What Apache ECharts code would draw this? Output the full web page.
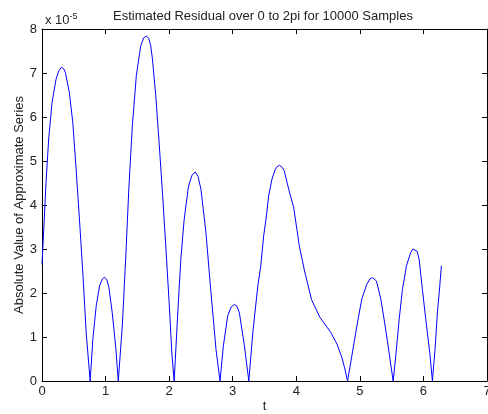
<!DOCTYPE html>
<html>
<head>
<meta charset="utf-8">
<script src="https://cdn.jsdelivr.net/npm/echarts@6/dist/echarts.min.js"></script>
<style>html,body{margin:0;padding:0;background:#fff;}#c{width:488px;height:414px;}</style>
</head>
<body>
<div id="c"></div>
<script>
var titleText = 'Estimated Residual over 0 to 2pi for 10000 Samples';
var xLabel = 't';
var yLabel = 'Absolute Value of Approximate Series';
var xTicks = [0, 1, 2, 3, 4, 5, 6, 7];
var yTicks = [0, 1, 2, 3, 4, 5, 6, 7, 8];
// t values
var tValues = [0.000,0.030,0.063,0.105,0.158,0.221,0.265,0.305,0.340,0.368,0.430,0.484,0.537,0.589,0.642,0.695,0.758,
0.800,0.853,0.905,0.950,0.984,1.020,1.053,1.105,1.158,1.200,
1.263,1.316,1.368,1.421,1.484,1.553,1.600,1.642,1.680,1.710,1.737,1.790,1.842,1.895,1.947,2.000,2.042,2.079,
2.130,2.184,2.237,2.305,2.360,2.410,2.455,2.500,2.579,2.658,2.737,2.800,
2.853,2.921,2.975,3.026,3.065,3.105,3.184,3.253,
3.316,3.395,3.440,3.487,3.530,3.565,3.618,3.670,3.705,3.738,3.775,3.810,3.880,3.958,4.050,4.130,4.240,4.370,4.540,4.640,4.720,4.760,4.806,
4.874,4.953,5.030,5.110,5.160,5.200,5.262,5.330,5.398,5.460,5.524,
5.565,5.618,5.670,5.733,5.800,5.835,5.864,5.900,5.932,5.984,6.037,6.100,6.141,
6.183,6.220,6.257,6.283];
// residual values in units of 1e-5
var residualE5 = [2.65,3.52,4.51,5.50,6.33,6.86,7.05,7.13,7.10,7.01,6.56,5.88,4.81,3.68,2.46,1.10,0,
0.95,1.71,2.16,2.32,2.36,2.30,2.12,1.55,0.80,0,
1.25,2.77,4.43,5.80,6.94,7.62,7.80,7.84,7.78,7.62,7.32,6.48,5.42,4.28,3.07,1.78,0.64,0,
1.40,2.77,3.68,4.43,4.68,4.75,4.65,4.36,3.37,2.01,0.72,0,
0.80,1.48,1.68,1.74,1.70,1.55,0.80,0,
1.10,2.16,2.60,3.30,3.75,4.21,4.59,4.81,4.88,4.90,4.86,4.78,4.36,3.95,3.05,2.50,1.85,1.45,1.11,0.84,0.52,0.30,0,
0.57,1.25,1.86,2.20,2.32,2.35,2.27,1.86,1.25,0.64,0,
0.57,1.40,2.08,2.62,2.92,3.00,3.02,2.95,2.77,2.08,1.40,0.64,0,
0.72,1.55,2.16,2.62];

var pts = tValues.map(function(t, i){ return [t, residualE5[i]]; });
var txt = '#222';
var font = 'Liberation Sans';
var fs = 13;
var chart = echarts.init(document.getElementById('c'), null, {renderer: 'canvas'});
var tickCommon = {show: true, inside: true, length: 5, lineStyle: {color: '#000', width: 1}};
chart.setOption({
  animation: false,
  backgroundColor: '#fff',
  title: [
    {text: titleText, left: 258, top: 5, textAlign: 'center',
     textStyle: {fontFamily: font, fontSize: fs, fontWeight: 'normal', color: txt}},
    {text: 'x 10{s|-5}', left: 40, top: 7,
     textStyle: {fontFamily: font, fontSize: fs, fontWeight: 'normal', color: txt,
       rich: {s: {fontFamily: font, fontSize: 9, color: txt, verticalAlign: 'top', padding: [0,0,8,0]}}}}
  ],
  grid: {left: 42, right: 1, top: 29, bottom: 33, containLabel: false, outerBoundsMode: 'none'},
  xAxis: [
    {type: 'value', min: 0, max: 7, interval: 1, position: 'bottom',
     name: xLabel, nameLocation: 'middle', nameGap: 19, nameMoveOverlap: false,
     nameTextStyle: {fontFamily: font, fontSize: fs, color: txt},
     axisLine: {show: true, onZero: false, lineStyle: {color: '#000', width: 1}},
     axisTick: tickCommon, splitLine: {show: false},
     axisLabel: {fontFamily: font, fontSize: fs, color: txt, margin: 4,
       formatter: function(v){ return xTicks.indexOf(v) >= 0 ? String(v) : ''; }}},
    {type: 'value', min: 0, max: 7, interval: 1, position: 'top',
     axisLine: {show: true, onZero: false, lineStyle: {color: '#000', width: 1}},
     axisTick: tickCommon, splitLine: {show: false}, axisLabel: {show: false}}
  ],
  yAxis: [
    {type: 'value', min: 0, max: 8, interval: 1, position: 'left',
     name: yLabel, nameLocation: 'middle', nameGap: 16, nameRotate: 90, nameMoveOverlap: false,
     nameTextStyle: {fontFamily: font, fontSize: fs, color: txt},
     axisLine: {show: true, onZero: false, lineStyle: {color: '#000', width: 1}},
     axisTick: tickCommon, splitLine: {show: false},
     axisLabel: {fontFamily: font, fontSize: fs, color: txt, margin: 5,
       formatter: function(v){ return yTicks.indexOf(v) >= 0 ? String(v) : ''; }}},
    {type: 'value', min: 0, max: 8, interval: 1, position: 'right',
     axisLine: {show: true, onZero: false, lineStyle: {color: '#000', width: 1}},
     axisTick: tickCommon, splitLine: {show: false}, axisLabel: {show: false}}
  ],
  series: [{
    type: 'line', data: pts, xAxisIndex: 0, yAxisIndex: 0,
    showSymbol: false, symbol: 'none', smooth: false,
    lineStyle: {color: '#0000ff', width: 1}
  }]
});
</script>
</body>
</html>
